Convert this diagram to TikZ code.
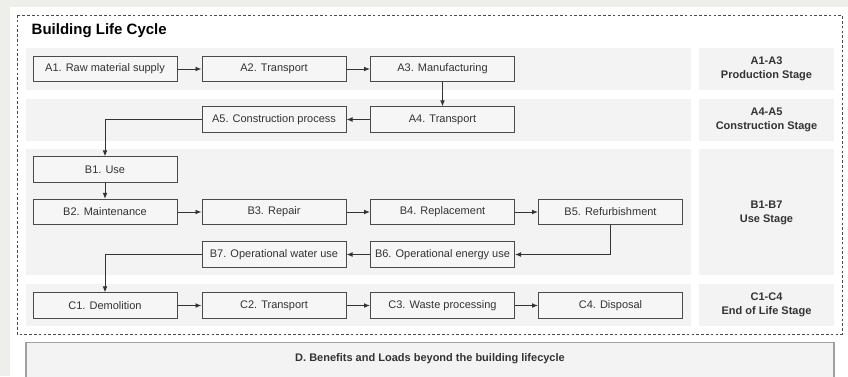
\documentclass[tikz,border=0pt]{standalone}
\usepackage{fontspec}
\setmainfont{Liberation Sans}
\usetikzlibrary{arrows.meta}
\definecolor{pagebg}{HTML}{EEEFEB}
\definecolor{bandfill}{HTML}{F3F3F3}
\definecolor{boxfill}{HTML}{F6F6F6}
\definecolor{boxline}{HTML}{4A4A4A}
\definecolor{txt}{HTML}{333333}
\definecolor{dline}{HTML}{A0A0A0}
\tikzset{
  stepbox/.style={draw=boxline, fill=boxfill, line width=0.75pt, minimum width=108pt, minimum height=19pt, inner sep=0pt, text=txt, font=\fontsize{8.25pt}{10pt}\selectfont},
  band/.style={fill=bandfill, draw=none},
  stagelabel/.style={text=txt, align=center, font=\bfseries\fontsize{8.25pt}{10.5pt}\selectfont},
  conn/.style={draw=txt, line width=0.7pt, -{Latex[length=4.5pt,width=3.6pt]}},
}
\begin{document}
\begin{tikzpicture}[x=0.75pt,y=-0.75pt]
\useasboundingbox (0,0) rectangle (848,376);
\fill[pagebg] (0,0) rectangle (848,376);
\fill[white] (10,7) rectangle (848,380);
% outer dashed frame
\draw[draw=boxline, line width=0.6pt, dash pattern=on 2pt off 1.6pt] (17,15) rectangle (842,334);
\node[anchor=west, text=black, font=\bfseries\fontsize{11.25pt}{13pt}\selectfont] (title) at (27,31) {Building Life Cycle};
% bands
\fill[band] (26,48) rectangle (691,90);
\fill[band] (699,48) rectangle (834,90);
\fill[band] (26,99) rectangle (691,141);
\fill[band] (699,99) rectangle (834,141);
\fill[band] (26,149) rectangle (691,275);
\fill[band] (699,149) rectangle (834,275);
\fill[band] (26,284) rectangle (691,326);
\fill[band] (699,284) rectangle (834,326);
% stage labels
\node[stagelabel] (sA13) at (766.5,69) {A1-A3\\Production Stage};
\node[stagelabel] (sA45) at (766.5,120) {A4-A5\\Construction Stage};
\node[stagelabel] (sB) at (766.5,212.5) {B1-B7\\Use Stage};
\node[stagelabel] (sC) at (766.5,305) {C1-C4\\End of Life Stage};
% boxes
\node[stepbox] (A1) at (105,69) {A1. Raw material supply};
\node[stepbox] (A2) at (274,69) {A2. Transport};
\node[stepbox] (A3) at (442.5,69) {A3. Manufacturing};
\node[stepbox] (A4) at (442.5,119.5) {A4. Transport};
\node[stepbox] (A5) at (274,119.5) {A5. Construction process};
\node[stepbox] (B1) at (105,169.5) {B1. Use};
\node[stepbox] (B2) at (105,212) {B2. Maintenance};
\node[stepbox] (B3) at (274,212) {B3. Repair};
\node[stepbox] (B4) at (442.5,212) {B4. Replacement};
\node[stepbox] (B5) at (610.5,212) {B5. Refurbishment};
\node[stepbox] (B6) at (442.5,254.5) {B6. Operational energy use};
\node[stepbox] (B7) at (274,254.5) {B7. Operational water use};
\node[stepbox] (C1) at (105,305.5) {C1. Demolition};
\node[stepbox] (C2) at (274,305.5) {C2. Transport};
\node[stepbox] (C3) at (442.5,305.5) {C3. Waste processing};
\node[stepbox] (C4) at (610.5,305.5) {C4. Disposal};
% connectors
\draw[conn] (A1) -- (A2);
\draw[conn] (A2) -- (A3);
\draw[conn] (A3) -- (A4);
\draw[conn] (A4) -- (A5);
\draw[conn] (A5.west) -| (B1.north);
\draw[conn] (B1) -- (B2);
\draw[conn] (B2) -- (B3);
\draw[conn] (B3) -- (B4);
\draw[conn] (B4) -- (B5);
\draw[conn] (B5.south) |- (B6.east);
\draw[conn] (B6) -- (B7);
\draw[conn] (B7.west) -| (C1.north);
\draw[conn] (C1) -- (C2);
\draw[conn] (C2) -- (C3);
\draw[conn] (C3) -- (C4);
% D box
\draw[draw=dline, fill=bandfill, line width=1.1pt] (26,342.5) rectangle (834,382);
\node[text=txt, font=\bfseries\fontsize{8.25pt}{10pt}\selectfont] (D) at (430,359) {D. Benefits and Loads beyond the building lifecycle};
\end{tikzpicture}
\end{document}
